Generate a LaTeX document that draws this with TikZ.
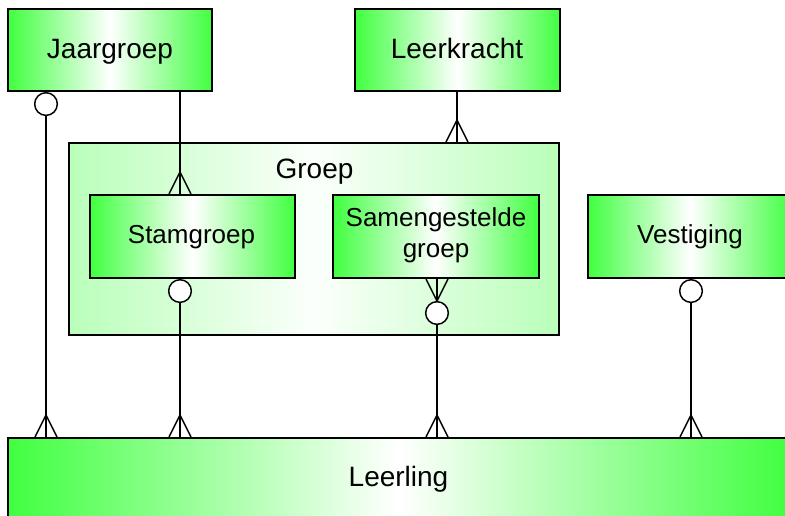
\documentclass[tikz,border=0pt]{standalone}
\usepackage{fontspec}
\setmainfont{Liberation Sans}
\definecolor{eg}{RGB}{64,255,64}
\definecolor{pg}{RGB}{185,255,185}
\begin{document}
\begin{tikzpicture}[x=0.75pt,y=-0.75pt,
  ent/.style={draw=black,line width=1.5pt,rectangle,inner sep=0pt,
    left color=eg,right color=eg,middle color=white},
  big/.style={font=\fontsize{21}{25}\selectfont,anchor=base,inner sep=0pt},
  small/.style={font=\fontsize{19.5}{23.25}\selectfont,anchor=base,inner sep=0pt,align=center},
  grp/.style={draw=black,line width=1.5pt,rectangle,inner sep=0pt,
    left color=pg,right color=pg,middle color=white!95!pg},
  optc/.style={draw=black,line width=1.1pt,circle,fill=white,inner sep=0pt,minimum size=17pt},
  conn/.style={line width=1.1pt},
  crowup/.pic={\draw[conn] (-11,0) -- (0,-22) -- (11,0);},
  crowdown/.pic={\draw[conn] (-11,0) -- (0,22) -- (11,0);}
]
\clip (0,0) rectangle (785,516);
\fill[white] (0,0) rectangle (785,516);
% entities
\node[ent,minimum width=153pt,minimum height=61.5pt] (jaar) at (110,50) {};
\node[big] (jaartxt) at (110,59) {Jaargroep};
\node[ent,minimum width=153.75pt,minimum height=61.5pt] (leer) at (457.5,50) {};
\node[big] (leertxt) at (457,58.5) {Leerkracht};
\node[grp,minimum width=367.5pt,minimum height=144pt] (groep) at (314,239) {};
\node[big] (groeplbl) at (314.5,179) {Groep};
\node[ent,minimum width=153.75pt,minimum height=62.25pt] (stam) at (192.5,236.5) {};
\node[small] (stamtxt) at (191.5,244) {Stamgroep};
\node[ent,minimum width=154.5pt,minimum height=62.25pt] (samen) at (436,236.5) {};
\node[small,anchor=base] (samentxt1) at (436,226.5) {Samengestelde};
\node[small,anchor=base] (samentxt2) at (436,257.5) {groep};
\node[ent,minimum width=153pt,minimum height=62.25pt] (vest) at (690,236.5) {};
\node[small] (vesttxt) at (690,243.5) {Vestiging};
\node[ent,minimum width=586.5pt,minimum height=60pt] (leerling) at (399,478) {};
\node[big] (leerlingtxt) at (398.5,486) {Leerling};
% x positions
\coordinate (c1) at (46,0);
\coordinate (c2) at (180,0);
\coordinate (c3) at (457,0);
\coordinate (c5) at (437,0);
\coordinate (c6) at (691,0);
% Jaargroep -> Leerling
\node[optc,anchor=north] (o1) at (jaar.south -| c1) {};
\draw[conn] (o1.south) -- (leerling.north -| c1);
\pic at (leerling.north -| c1) {crowup};
% Jaargroep -> Stamgroep
\draw[conn] (jaar.south -| c2) -- (stam.north -| c2);
\pic at (stam.north -| c2) {crowup};
% Leerkracht -> Groep
\draw[conn] (leer.south -| c3) -- (groep.north -| c3);
\pic at (groep.north -| c3) {crowup};
% Stamgroep -> Leerling
\node[optc,anchor=north] (o2) at (stam.south -| c2) {};
\draw[conn] (o2.south) -- (leerling.north -| c2);
\pic at (leerling.north -| c2) {crowup};
% Samengestelde groep -> Leerling
\node[optc] (o3) at ([yshift=-25.5pt]samen.south -| c5) {};
\draw[conn] (samen.south -| c5) -- (o3.north);
\pic at (samen.south -| c5) {crowdown};
\draw[conn] (o3.south) -- (leerling.north -| c5);
\pic at (leerling.north -| c5) {crowup};
% Vestiging -> Leerling
\node[optc,anchor=north] (o4) at (vest.south -| c6) {};
\draw[conn] (o4.south) -- (leerling.north -| c6);
\pic at (leerling.north -| c6) {crowup};
\end{tikzpicture}
\end{document}
